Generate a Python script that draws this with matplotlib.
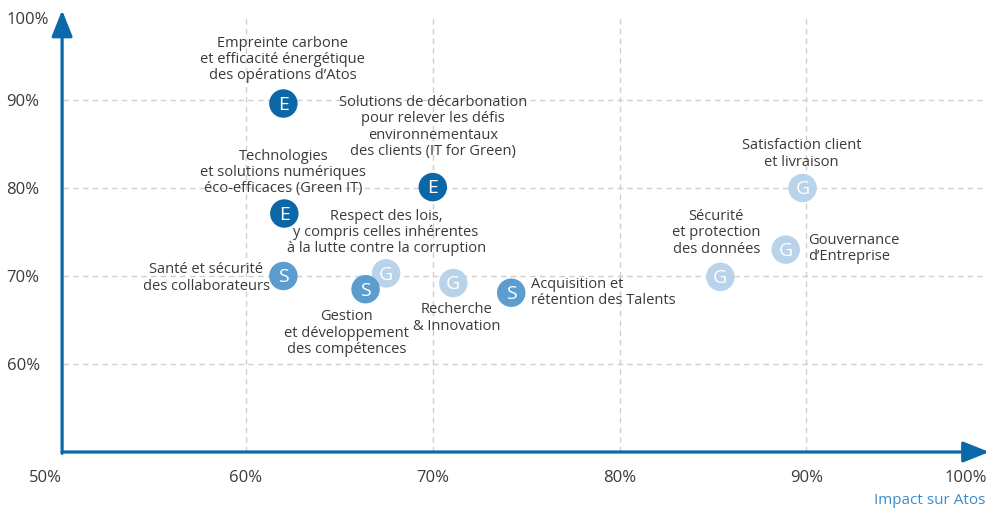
import matplotlib
matplotlib.use("Agg")
import matplotlib.pyplot as plt
import matplotlib.transforms as mtransforms

plt.rcParams['font.family'] = ['Open Sans', 'DejaVu Sans']

# ---- data ----
labels = [
    "Empreinte carbone\net efficacité énergétique\ndes opérations d’Atos",
    "Solutions de décarbonation\npour relever les défis\nenvironnementaux\ndes clients (IT for Green)",
    "Technologies\net solutions numériques\néco-efficaces (Green IT)",
    "Santé et sécurité\ndes collaborateurs",
    "Respect des lois,\ny compris celles inhérentes\nà la lutte contre la corruption",
    "Gestion\net développement\ndes compétences",
    "Recherche\n& Innovation",
    "Acquisition et\nrétention des Talents",
    "Sécurité\net protection\ndes données",
    "Gouvernance\nd’Entreprise",
    "Satisfaction client\net livraison",
]
pillar = ["E", "E", "E", "S", "G", "S", "G", "S", "G", "G", "G"]
impact = [62.0, 70.0, 62.05, 62.0, 67.5, 66.4, 71.1, 74.2, 85.4, 88.9, 89.8]
importance = [89.6, 80.1, 77.1, 70.0, 70.3, 68.5, 69.2, 68.1, 69.9, 73.0, 80.0]
x_ticks = [50, 60, 70, 80, 90, 100]
x_tick_labels = ["50%", "60%", "70%", "80%", "90%", "100%"]
y_ticks = [60, 70, 80, 90, 100]
y_tick_labels = ["60%", "70%", "80%", "90%", "100%"]
x_title = "Impact sur Atos"

# ---- styles ----
colors = {"E": "#0b67a5", "S": "#5b9dcf", "G": "#b9d3eb"}
axis_color = "#0a69a8"
text_color = "#3a3a3a"
# label offsets in pixels (dx right, dy up), alignment
label_style = [
    ((-1, 44), "center"),
    ((0, 60), "center"),
    ((-1, 41), "center"),
    ((-77, -2), "center"),
    ((0, 41), "center"),
    ((-19, -44), "center"),
    ((3, -35), "center"),
    ((20, 0), "left"),
    ((-4, 44), "center"),
    ((22, 1), "left"),
    ((-1, 34), "center"),
]

fig = plt.figure(figsize=(9.87, 5.08), dpi=100)
W, H = 987, 508
x0, x1 = 59.3, 993.0
y0, y1 = 452.0, 12.0
ax = fig.add_axes([x0 / W, 1 - y0 / H, (x1 - x0) / W, (y0 - y1) / H])
ax.set_xlim(50, 100)
ax.set_ylim(50, 100)
for s in ax.spines.values():
    s.set_visible(False)

# grid
for v in [60, 70, 80, 90]:
    ax.plot([v, v], [50, 99.5], color="#cfcfcf", lw=1, ls=(0, (4, 3)), zorder=0)
    ax.plot([50.2, 99.6], [v, v], color="#cfcfcf", lw=1, ls=(0, (4, 3)), zorder=0)

# axes arrows
astyle = dict(arrowstyle="-|>,head_length=0.8,head_width=0.32", color=axis_color,
              lw=2.3, mutation_scale=20, shrinkA=0, shrinkB=0)
ax.annotate("", xy=(50.15, 100.2), xytext=(50.15, 49.85), xycoords="data",
            arrowprops=astyle, annotation_clip=False)
ax.annotate("", xy=(99.8, 50), xytext=(50.15, 50), xycoords="data",
            arrowprops=astyle, annotation_clip=False)

# ticks
ax.set_xticks(x_ticks)
ax.set_xticklabels(x_tick_labels, fontsize=12, color=text_color)
ax.set_yticks(y_ticks)
ax.set_yticklabels(y_tick_labels, fontsize=12, color=text_color, ha="left")
ax.tick_params(axis="x", length=0, pad=13)
ax.tick_params(axis="y", length=0, pad=38)
xt = ax.get_xticklabels()
xt[0].set_ha("right")
xt[-1].set_ha("right")
xt[0].set_transform(xt[0].get_transform() + mtransforms.ScaledTranslation(3 / 100, 0, fig.dpi_scale_trans))
xt[-1].set_transform(xt[-1].get_transform() + mtransforms.ScaledTranslation(-6 / 100, 0, fig.dpi_scale_trans))
yt = ax.get_yticklabels()
yt[-1].set_va("top")

fig.text(985 / W, 1 - 500 / H, x_title, ha="right", va="center",
         fontsize=11, color="#3a8dcb")

# markers
for x, y, p in zip(impact, importance, pillar):
    ax.scatter([x], [y], s=420, color=colors[p], edgecolors="none", zorder=3)
    ax.text(x, y - 0.15, p, color="white", fontsize=14, ha="center", va="center", zorder=4)

for x, y, lab, ((dx, dy), ha) in zip(impact, importance, labels, label_style):
    ax.annotate(lab, xy=(x, y), xytext=(dx * 0.72, dy * 0.72), textcoords="offset points",
                ha=ha, va="center", multialignment="center" if ha == "center" else "left",
                fontsize=10.5, color=text_color, linespacing=1.12, zorder=5)

fig.savefig("out.png", dpi=100)
